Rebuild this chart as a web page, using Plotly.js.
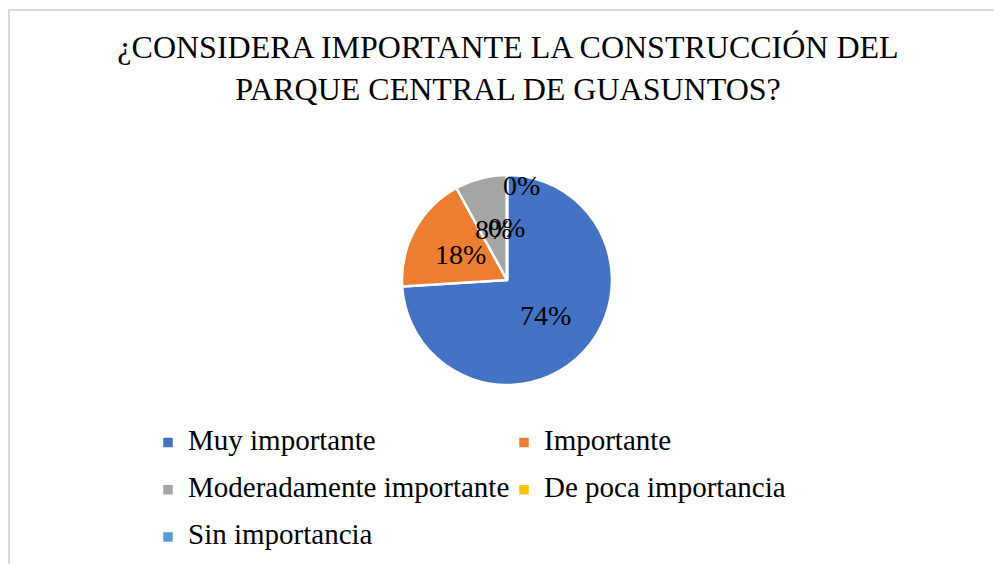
<!DOCTYPE html>
<html>
<head>
<meta charset="utf-8">
<script src="https://cdn.plot.ly/plotly-3.0.1.min.js"></script>
<style>
  html, body { margin: 0; padding: 0; background: #ffffff; overflow: hidden; }
  #wrap { position: relative; width: 994px; height: 564px; overflow: hidden; }
  #chart { position: absolute; left: 0; top: 0; width: 994px; height: 600px; }
  #frame { position: absolute; left: 8px; top: 9px; width: 1200px; height: 800px;
           border-left: 2px solid #d9d9d9; border-top: 2px solid #d9d9d9; pointer-events: none; }
</style>
</head>
<body>
<div id="wrap">
  <div id="chart"></div>
  <div id="frame"></div>
</div>
<script>
// ---- data ----
const categories = ["Muy importante", "Importante", "Moderadamente importante", "De poca importancia", "Sin importancia"];
const percentValues = [74, 18, 8, 0, 0];
const percentLabels = ["74%", "18%", "8%", "0%", "0%"];
const sliceColors = ["#4472C4", "#ED7D31", "#A5A5A5", "#FFC000", "#5B9BD5"];
const titleText = "¿CONSIDERA IMPORTANTE LA CONSTRUCCIÓN DEL<br>PARQUE CENTRAL DE GUASUNTOS?";

// label placement (fraction of radius along mid-angle, extra shift in px) – style only
const labelRadius = [0.5, 0.5, 0.5, 0.5, 0.9];
const labelShiftX = [0, 0, 0, 0, 14];
const labelShiftY = 0;

// plot canvas is a bit taller than the visible 564px so the legend is not clamped
const W = 994, H = 600;
const FONT = "Liberation Serif";
const pieDomain = { x: [402 / W, 612 / W], y: [1 - 385 / H, 1 - 175 / H] };

// compute data-label positions from the values
const total = percentValues.reduce((a, b) => a + b, 0);
const cxPx = (pieDomain.x[0] + pieDomain.x[1]) / 2 * W;
const cyPx = (1 - (pieDomain.y[0] + pieDomain.y[1]) / 2) * H;
const Rpx = Math.min((pieDomain.x[1] - pieDomain.x[0]) * W, (pieDomain.y[1] - pieDomain.y[0]) * H) / 2;
let cum = 0;
const annotations = percentValues.map((v, i) => {
  const mid = (cum + v / 2) / total * 2 * Math.PI;
  cum += v;
  const px = cxPx + labelRadius[i] * Rpx * Math.sin(mid) + labelShiftX[i];
  const py = cyPx - labelRadius[i] * Rpx * Math.cos(mid) + labelShiftY;
  return {
    x: px / W, y: 1 - py / H, xref: "paper", yref: "paper",
    text: percentLabels[i], showarrow: false, xanchor: "center", yanchor: "middle",
    font: { family: FONT, size: 28, color: "#000000" }
  };
});

const trace = {
  type: "pie",
  labels: categories.map(c => '<span style="font-size:29px;baseline-shift:6px">' + c + '</span>'),
  values: percentValues,
  sort: false,
  direction: "clockwise",
  rotation: 0,
  textinfo: "none",
  hoverinfo: "label+percent",
  marker: { colors: sliceColors, line: { color: "#ffffff", width: 2.5 } },
  domain: pieDomain
};

const layout = {
  width: W, height: H,
  margin: { l: 0, r: 0, t: 0, b: 0, autoexpand: false },
  paper_bgcolor: "#ffffff",
  plot_bgcolor: "#ffffff",
  font: { family: FONT, color: "#000000" },
  title: {
    text: titleText,
    font: { family: FONT, size: 32, color: "#000000" },
    x: 508 / W, xanchor: "center", xref: "paper",
    y: 1 - 58 / H, yanchor: "top", yref: "container"
  },
  showlegend: true,
  legend: {
    orientation: "h",
    x: 148 / W, xanchor: "left",
    y: 1 - 414 / H, yanchor: "top",
    entrywidth: 311, entrywidthmode: "pixels",
    font: { family: FONT, size: 34, color: "#000000" },
    traceorder: "normal",
    bgcolor: "rgba(0,0,0,0)"
  },
  annotations: annotations
};

Plotly.newPlot("chart", [trace], layout, { displayModeBar: false, staticPlot: true });
</script>
</body>
</html>
